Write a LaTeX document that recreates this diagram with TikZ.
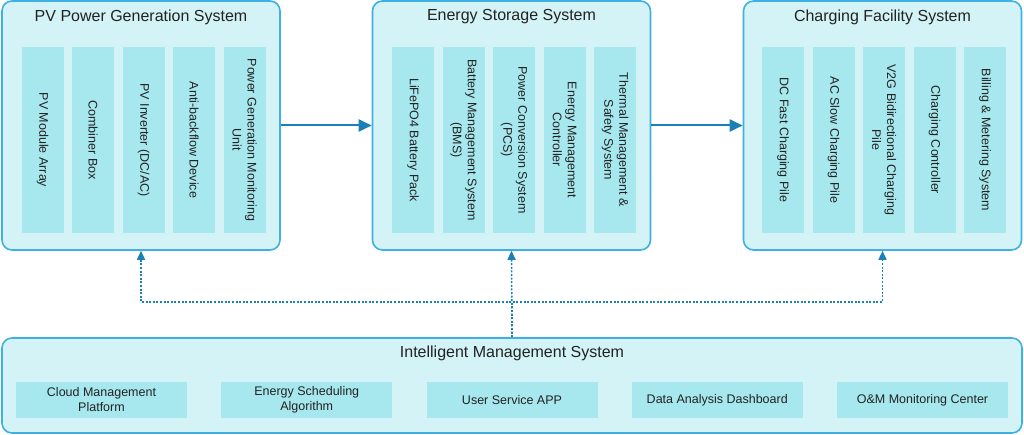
\documentclass[tikz,border=0pt]{standalone}
\usepackage{fontspec}
\setmainfont{Liberation Sans}
\usetikzlibrary{arrows.meta, positioning, calc}
\definecolor{sysedge}{HTML}{3FB0E4}
\definecolor{sysfill}{HTML}{D3F3F6}
\definecolor{modfill}{HTML}{A7E8EE}
\definecolor{flowblue}{HTML}{1B80B8}
\definecolor{labelgray}{HTML}{222222}

\begin{document}
\begin{tikzpicture}[
  x=1pt, y=-1pt,
  font=\fontsize{12.5}{15}\selectfont, text=labelgray,
  sysbox/.style={
    rectangle, rounded corners=10pt, draw=sysedge, fill=sysfill, line width=1.6pt,
    minimum width=278pt, minimum height=249pt, inner sep=0pt
  },
  systitle/.style={font=\fontsize{16}{19}\selectfont, inner sep=0pt},
  modcol/.style={
    rectangle, fill=modfill, rotate=-90, align=center,
    minimum width=186pt, minimum height=42pt, inner sep=2pt
  },
  modbox/.style={
    rectangle, fill=modfill, align=center,
    minimum width=171pt, minimum height=36pt, inner sep=2pt
  },
  flow/.style={-{Triangle[length=13pt, width=12pt]}, draw=flowblue, line width=2pt},
  ctrl/.style={-{Triangle[length=9pt, width=8pt]}, draw=flowblue, line width=1.5pt,
    dash pattern=on 2pt off 1.6pt},
]
\path[use as bounding box] (0,0) rectangle (1024,435);

% Top row: the three subsystems
\node[sysbox] (pv) at (141,125.5) {};
\node[sysbox] (ess) at (511.5,125.5) {};
\node[sysbox] (cfs) at (882.5,125.5) {};
\node[systitle] (pvtitle) at (141,17) {PV Power Generation System};
\node[systitle] (esstitle) at (511.5,17) {Energy Storage System};
\node[systitle] (cfstitle) at (882.5,17) {Charging Facility System};

% Vertical module columns inside each subsystem
\foreach \i/\lbl in {0/{PV Module Array}, 1/{Combiner Box}, 2/{PV Inverter (DC/AC)},
    3/{Anti-backflow Device}, 4/{Power Generation Monitoring\\Unit}}
  \node[modcol] (pv\i) at (42.5+50.5*\i,140) {\lbl};
\foreach \i/\lbl in {0/{LiFePO4 Battery Pack}, 1/{Battery Management System\\(BMS)},
    2/{Power Conversion System\\(PCS)}, 3/{Energy Management\\Controller},
    4/{Thermal Management \&\\Safety System}}
  \node[modcol] (ess\i) at (413+50.5*\i,140) {\lbl};
\foreach \i/\lbl in {0/{DC Fast Charging Pile}, 1/{AC Slow Charging Pile},
    2/{V2G Bidirectional Charging\\Pile}, 3/{Charging Controller},
    4/{Billing \& Metering System}}
  \node[modcol] (cfs\i) at (783+50.5*\i,140) {\lbl};

% Bottom band: intelligent management
\node[sysbox, minimum width=1020pt, minimum height=95pt] (ims) at (512,385.5) {};
\node[systitle] (imstitle) at (512,353) {Intelligent Management System};
\foreach \i/\lbl in {0/{Cloud Management\\Platform}, 1/{Energy Scheduling\\Algorithm},
    2/{User Service APP}, 3/{Data Analysis Dashboard}, 4/{O\&M Monitoring Center}}
  \node[modbox] (ims\i) at (101.5+205.25*\i,400) {\lbl};

% Energy flow between subsystems
\draw[flow] (pv.east) -- (ess.west);
\draw[flow] (ess.east) -- (cfs.west);

% Control links from management to each subsystem
\coordinate (hub) at (512,302);
\draw[ctrl] (ims.north) -- (hub) -| (pv.south);
\draw[ctrl] (ims.north) -- (ess.south);
\draw[ctrl] (ims.north) -- (hub) -| (cfs.south);
\end{tikzpicture}
\end{document}
